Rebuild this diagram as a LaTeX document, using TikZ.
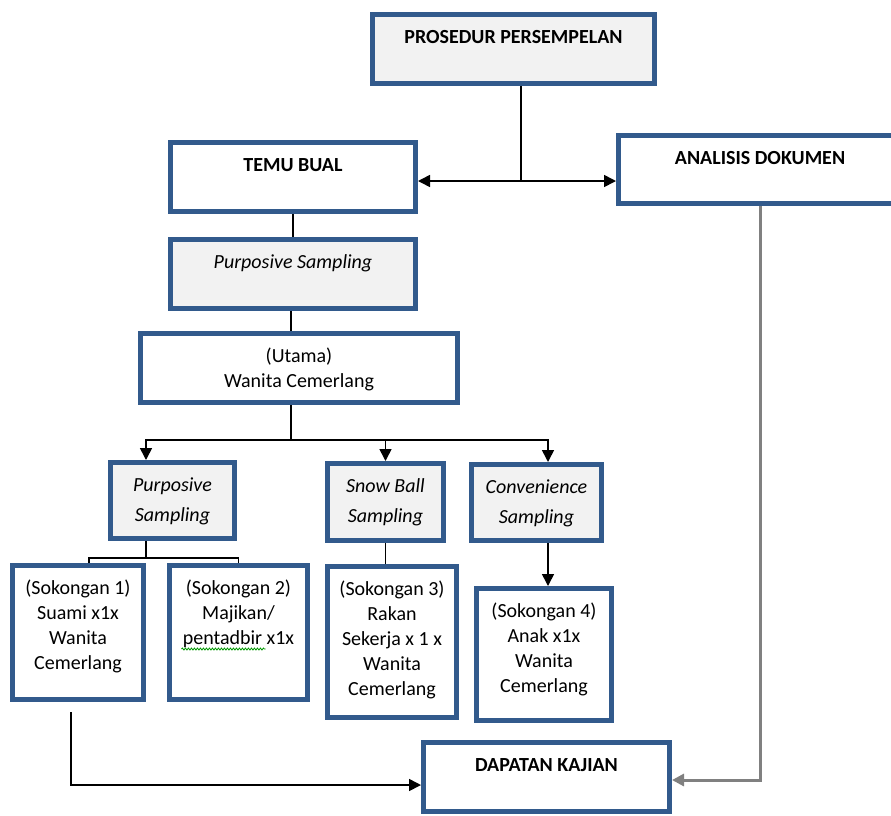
\documentclass[tikz,border=0pt]{standalone}
\usepackage{fontspec}
\setmainfont{Carlito}
\usepackage{tikz}
\usetikzlibrary{calc}
\usetikzlibrary{arrows.meta}
\usetikzlibrary{decorations.pathmorphing}
\definecolor{boxblue}{HTML}{325A8C}
\definecolor{boxgrey}{HTML}{F2F2F2}
\tikzset{>={Triangle[length=12pt,width=12pt]}}
\tikzset{box/.style = {draw=boxblue, line width=5pt, fill=white, anchor=north, align=center,
    inner xsep=4pt, inner ysep=12pt, text height=17pt, font=\fontsize{20}{25}\selectfont}}
\tikzset{greybox/.style = {box, fill=boxgrey}}
\tikzset{sampling/.style = {greybox, text height=47pt, font=\fontsize{20}{30}\selectfont\itshape}}
\tikzset{edge/.style = {->, line width=1.6pt}}
\tikzset{link/.style = {line width=1.6pt}}
\tikzset{greyedge/.style = {->, line width=3pt, draw=gray}}
\tikzset{spell/.style = {green!60!black, line width=0.8pt, decorate, decoration={snake, amplitude=1pt, segment length=3pt}}}

\begin{document}
\begin{tikzpicture}[x=1pt,y=-1pt]
            \useasboundingbox (0,0) rectangle (891,815);
            % Vertices
            \node[greybox, minimum width=282pt, text depth=28pt] (pros) at (513.5,12) {\bfseries PROSEDUR PERSEMPELAN};
            \node[box, minimum width=245pt, text depth=28pt] (temu) at (293,140) {\bfseries TEMU BUAL};
            \node[box, minimum width=283pt, text depth=27pt] (anal) at (760,133) {\bfseries ANALISIS DOKUMEN};
            \node[greybox, minimum width=245pt, text depth=28pt] (purp) at (293,237) {\itshape Purposive Sampling};
            \node[box, minimum width=317pt, text height=42pt, text depth=3pt] (utama) at (299,331) {(Utama)\\Wanita Cemerlang};

            \node[sampling, minimum width=124pt, text depth=5pt] (purpb) at (172.5,460) {Purposive\\Sampling};
            \node[sampling, minimum width=116pt, text depth=6pt] (snow) at (385.5,461) {Snow Ball\\Sampling};
            \node[sampling, minimum width=130pt, text depth=5pt] (conv) at (536.5,462) {Convenience\\Sampling};

            \node[box, minimum width=131pt, text height=92pt, text depth=18pt] (sok1) at (78,563) {(Sokongan 1)\\Suami x1x\\Wanita\\Cemerlang};
            \node[box, minimum width=138pt, text height=67pt, text depth=43pt] (sok2) at (238.5,563) {(Sokongan 2)\\Majikan/\\pentadbir x1x};
            \node[box, minimum width=129pt, text height=117pt, text depth=10pt] (sok3) at (392,564) {(Sokongan 3)\\Rakan\\Sekerja x 1 x\\Wanita\\Cemerlang};
            \node[box, minimum width=135pt, text height=92pt, text depth=16pt] (sok4) at (544,586) {(Sokongan 4)\\Anak x1x\\Wanita\\Cemerlang};

            \node[box, minimum width=246pt, text depth=28pt] (dapat) at (546.5,740) {\bfseries DAPATAN KAJIAN};

            \coordinate (j1) at (521,181);
            \coordinate (j2) at (291,440);
            \coordinate (j3) at (146,558);

            % Edges
            % prosedur
            \draw[link] (pros.south -| j1) -- (j1);
            \draw[edge] (j1) -- (j1 -| temu.east);
            \draw[edge] (j1) -- (j1 -| anal.west);

            % temu bual
            \draw[link] (temu.south) -- (purp.north);
            \draw[link] ([xshift=-2pt]purp.south) -- ([xshift=-2pt]purp.south |- utama.north);

            % utama
            \draw[link] (utama.south -| j2) -- (j2);
            \draw[edge] (j2) -| ([xshift=-26.5pt]purpb.north);
            \draw[edge] (j2) -| (snow.north);
            \draw[edge] (j2) -| ([xshift=11.5pt]conv.north);

            % sampling
            \draw[link] ([xshift=-26.5pt]purpb.south) -- (j3);
            \draw[link] (j3) -| ([xshift=11pt]sok1.north);
            \draw[link] (j3) -| (sok2.north);
            \draw[link] (snow.south) -- (snow.south |- sok3.north);
            \draw[edge] ([xshift=11.5pt]conv.south) -- ([xshift=11.5pt]conv.south |- sok4.north);

            % dapatan
            \draw[edge] ([xshift=-7pt,yshift=-10pt]sok1.south) |- ([yshift=-8pt]dapat.west);
            \draw[greyedge] (anal.south) |- ([yshift=-3pt]dapat.east);

            % spelling mark
            \draw[spell] ($(sok2.north)+(-57,86)$) -- ($(sok2.north)+(27,86)$);
        \end{tikzpicture}
\end{document}
